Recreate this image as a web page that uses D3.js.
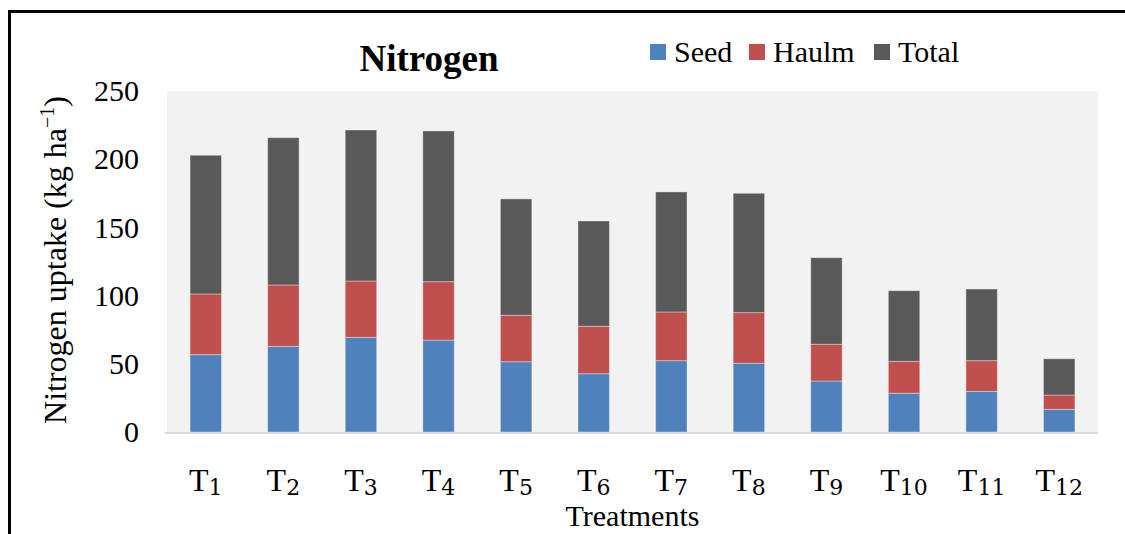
<!DOCTYPE html>
<html>
<head>
<meta charset="utf-8">
<script src="https://cdn.jsdelivr.net/npm/d3@7"></script>
<style>
  body { margin: 0; background: #fff; }
  text { font-family: "Liberation Serif", "Times New Roman", serif; fill: #000; }
</style>
</head>
<body>
<div id="chart"></div>
<script>
// values (kg/ha)
var treatments = ["1","2","3","4","5","6","7","8","9","10","11","12"];
var seed  = [56.7, 62.8, 69.4, 67.4, 51.5, 42.7, 52.3, 50.4, 37.4, 28.4, 29.8, 16.6];
var haulm = [44.5, 45.0, 41.3, 42.8, 34.1, 34.8, 35.7, 37.1, 26.9, 23.4, 22.5, 10.5];
var total = [101.7, 108.0, 110.7, 110.5, 85.3, 77.2, 88.0, 87.5, 63.5, 51.8, 52.5, 26.6];
var yTicks = [0, 50, 100, 150, 200, 250];

var seriesNames = ["Seed", "Haulm", "Total"];
var colors = ["#4f81bd", "#c0504d", "#595959"];

var W = 1125, H = 534;
var margin = {left: 167, right: 27, top: 91, bottom: 102};

var svg = d3.select("#chart").append("svg")
    .attr("width", W)
    .attr("height", H);

// frame
svg.append("path")
    .attr("d", "M9.5," + H + " L9.5,11.5 L" + W + ",11.5")
    .attr("fill", "none")
    .attr("stroke", "#000")
    .attr("stroke-width", 3);

var rows = treatments.map(function(t, i) {
    return {t: t, Seed: seed[i], Haulm: haulm[i], Total: total[i]};
});

var x = d3.scaleBand()
    .domain(treatments)
    .range([margin.left, W - margin.right])
    .paddingInner(0.595)
    .paddingOuter(0.2975);

var y = d3.scaleLinear()
    .domain([0, 250])
    .range([H - margin.bottom, margin.top]);

// plot background
svg.append("rect")
    .attr("x", margin.left)
    .attr("y", margin.top)
    .attr("width", W - margin.right - margin.left)
    .attr("height", y(0) - margin.top)
    .attr("fill", "#f2f2f2");

var stacked = d3.stack().keys(seriesNames)(rows);

svg.append("g").selectAll("g")
    .data(stacked)
    .enter().append("g")
    .attr("fill", function(d, i) { return colors[i]; })
    .selectAll("rect")
    .data(function(d) { return d; })
    .enter().append("rect")
    .attr("x", function(d) { return x(d.data.t); })
    .attr("width", x.bandwidth())
    .attr("y", function(d) { return y(d[1]); })
    .attr("height", function(d) { return y(d[0]) - y(d[1]); })
    .attr("stroke", "#ffffff")
    .attr("stroke-opacity", 0.35)
    .attr("stroke-width", 1);

// x axis line
svg.append("line")
    .attr("x1", margin.left - 2)
    .attr("x2", W - margin.right)
    .attr("y1", y(0) + 1)
    .attr("y2", y(0) + 1)
    .attr("stroke", "#d9d9d9")
    .attr("stroke-width", 2);

// y axis labels
var yAxis = svg.append("g")
    .attr("transform", "translate(" + margin.left + ",0)")
    .call(d3.axisLeft(y).tickValues(yTicks).tickSize(0).tickPadding(28));
yAxis.select(".domain").remove();
yAxis.selectAll("text")
    .style("font-family", "Liberation Serif")
    .style("font-size", "30px")
    .attr("fill", "#000");

// x labels T with subscript
var xl = svg.append("g").selectAll("text")
    .data(treatments)
    .enter().append("text")
    .attr("x", function(d) { return x(d) + x.bandwidth() / 2; })
    .attr("y", 491)
    .attr("text-anchor", "middle")
    .style("font-size", "32px");
xl.append("tspan").text("T");
xl.append("tspan")
    .attr("dy", 4)
    .style("font-size", "22px")
    .style("font-family", "DejaVu Serif")
    .text(function(d) { return d; });

// axis titles
svg.append("text")
    .attr("x", (margin.left + W - margin.right) / 2)
    .attr("y", 526)
    .attr("text-anchor", "middle")
    .style("font-size", "30px")
    .text("Treatments");

var yt = svg.append("text")
    .attr("transform", "translate(66," + 260 + ") rotate(-90)")
    .attr("text-anchor", "middle")
    .style("font-size", "32px");
yt.append("tspan").text("Nitrogen uptake (kg ha");
yt.append("tspan").attr("dy", -12).style("font-size", "20px").text("\u22121");
yt.append("tspan").attr("dy", 12).text(")");

// title
svg.append("text")
    .attr("x", 429)
    .attr("y", 71)
    .attr("text-anchor", "middle")
    .style("font-size", "37px")
    .style("font-weight", "bold")
    .text("Nitrogen");

// legend
var legendX = [650, 749, 874];
var leg = svg.append("g").selectAll("g")
    .data(seriesNames)
    .enter().append("g")
    .attr("transform", function(d, i) { return "translate(" + legendX[i] + ",0)"; });
leg.append("rect")
    .attr("y", 44)
    .attr("width", 16)
    .attr("height", 16)
    .attr("fill", function(d, i) { return colors[i]; });
leg.append("text")
    .attr("x", 24)
    .attr("y", 62)
    .style("font-size", "30px")
    .text(function(d) { return d; });
</script>
</body>
</html>
